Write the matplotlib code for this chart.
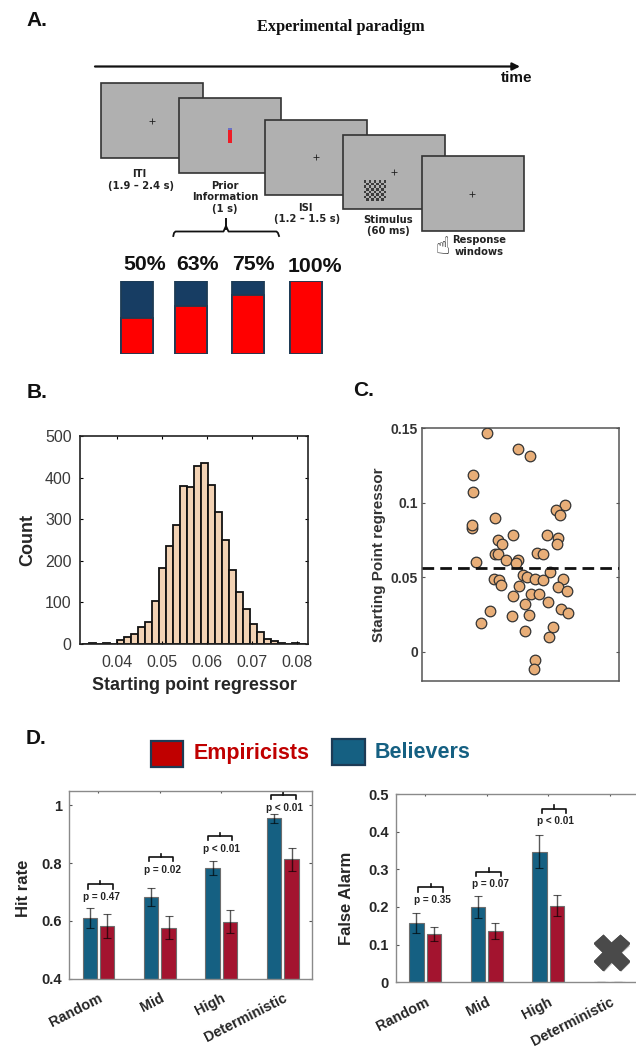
import matplotlib
matplotlib.use("Agg")
import matplotlib.pyplot as plt
import matplotlib.patheffects as pe
from matplotlib.patches import Rectangle
from matplotlib.transforms import ScaledTranslation

plt.rcParams['font.family'] = ['Liberation Sans', 'DejaVu Sans']

W, H = 636, 1047

# panel A
prior_labels = ['50%', '63%', '75%', '100%']
prior_share = [0.50, 0.66, 0.81, 1.00]

# panel B
hist_start = 0.03225
hist_width = 0.00155
hist_counts = [1, 2, 1, 2, 1, 10, 17, 24, 42, 54, 104, 183, 235, 285, 379, 377, 429,
               435, 382, 318, 251, 179, 124, 84, 47, 28, 12, 7, 3, 1, 3, 1]

# panel C
subject_x = [.328, .487, .547, .259, .261, .252, .252, .369, .728, .682, .700, .460, .636,
             .690, .386, .404, .685, .369, .387, .585, .612, .486, .428, .276, .477, .648,
             .511, .535, .574, .614, .716, .365, .391, .401, .491, .692, .734, .462, .552,
             .592, .640, .521, .706, .739, .345, .457, .543, .298, .665, .521, .643, .574, .570]
subject_y = [.1467, .1357, .1313, .1183, .1071, .0830, .0853, .0897, .0984, .0951, .0915, .0781,
             .0783, .0763, .0750, .0721, .0721, .0656, .0658, .0661, .0658, .0614, .0614, .0605,
             .0592, .0533, .0513, .0504, .0487, .0480, .0491, .0491, .0482, .0446, .0444, .0433,
             .0406, .0371, .0384, .0386, .0335, .0317, .0290, .0261, .0275, .0239, .0246, .0190,
             .0167, .0141, .0098, -.0058, -.0114]
subject_mean = 0.0563

# panel D
conditions = ['Random', 'Mid', 'High', 'Deterministic']
hit_believers = [.610, .683, .784, .955]
hit_believers_err = [.036, .032, .025, .016]
hit_empiricists = [.583, .577, .598, .813]
hit_empiricists_err = [.042, .040, .040, .040]
hit_p = ['p = 0.47', 'p = 0.02', 'p < 0.01', 'p < 0.01']
hit_bracket_y = [.727, .821, .894, 1.036]
hit_bracket_x = [1.03, 2.014, 2.976, 4.008]

fa_believers = [.158, .200, .347, 0]
fa_believers_err = [.0265, .028, .044, 0]
fa_empiricists = [.128, .137, .203, 0]
fa_empiricists_err = [.0195, .021, .028, 0]
fa_p = ['p = 0.35', 'p = 0.07', 'p < 0.01']
fa_bracket_y = [.252, .294, .461]
fa_bracket_x = [1.09, 2.035, 3.098]

BLUE = '#156082'
RED = '#A3142F'
DARK = '#262626'


def px_axes(fig, left, top, right, bottom):
    '''Axes placed by pixel box of the image'''
    return fig.add_axes([left / W, 1 - bottom / H, (right - left) / W, (bottom - top) / H])


def group_bars(ax, blue, blue_err, red, red_err):
    x = range(1, len(blue) + 1)
    ebar = dict(ecolor=(0, 0, 0, 0.65), elinewidth=1, capsize=3, capthick=0.8)
    ax.bar([i - 0.142 for i in x], blue, 0.233, yerr=blue_err, color=BLUE,
           edgecolor='#6d6d6d', linewidth=0.8, error_kw=ebar)
    ax.bar([i + 0.142 for i in x], red, 0.233, yerr=red_err, color=RED,
           edgecolor='#6d6d6d', linewidth=0.8, error_kw=ebar)


def bracket(ax, x, y, leg, tip, label, drop):
    ax.plot([x - 0.2, x - 0.2, x + 0.2, x + 0.2], [y - leg, y, y, y - leg], color='#111111',
            lw=1.2, clip_on=False, solid_joinstyle='round')
    ax.plot([x, x], [y, y + tip], color='#111111', lw=1.2, clip_on=False)
    ax.text(x + 0.02, y - drop, label, ha='center', va='center', fontsize=7.2,
            fontweight='bold', color='#222222')


def style_d(ax, ylabel, label_x, label_y):
    ax.set_xlim(0.52, 4.475)
    ax.set_xticks([1, 2, 3, 4])
    ax.set_xticklabels(conditions, rotation=27, ha='right', rotation_mode='anchor',
                       fontsize=10.4, fontweight='bold', color=DARK)
    shift = ScaledTranslation(7.5 / 72, 0, ax.figure.dpi_scale_trans)
    for t in ax.get_xticklabels():
        t.set_transform(t.get_transform() + shift)
    ax.tick_params(axis='x', direction='in', length=1.5, pad=9, top=True, bottom=False, color='#555555')
    ax.tick_params(axis='y', direction='in', length=2, right=True, color='#555555', pad=5)
    for t in ax.get_yticklabels():
        t.set_fontsize(10.5)
        t.set_fontweight('bold')
        t.set_color(DARK)
    for s in ax.spines.values():
        s.set_color('#8a8a8a')
        s.set_linewidth(1.0)
    ax.set_ylabel(ylabel, fontsize=12, fontweight='bold', color=DARK)
    ax.yaxis.set_label_coords(label_x, label_y)


fig = plt.figure(figsize=(W / 100, H / 100), dpi=100)

# overlay in image pixels for the schematic and the panel letters
bg = fig.add_axes([0, 0, 1, 1])
bg.set_xlim(0, W)
bg.set_ylim(H, 0)
bg.axis('off')

for label, x, y in [('A.', 26, 20), ('B.', 27, 392), ('C.', 353, 391), ('D.', 26, 739)]:
    bg.text(x, y, label, fontsize=15, fontweight='bold', va='center', color='#111111')

bg.text(341, 27, 'Experimental paradigm', family='Liberation Serif', fontweight='bold',
        fontsize=11.8, ha='center', va='center', color='#111111')
bg.annotate('', xy=(520, 66.5), xytext=(95, 66.5),
            arrowprops=dict(arrowstyle='-|>', color='#111111', lw=1.6, mutation_scale=11, shrinkA=0, shrinkB=0))
bg.text(517, 78, 'time', fontsize=11, fontweight='bold', ha='center', va='center', color='#111111')

screens = [(100.7, 83.3), (178.7, 98), (265.3, 120), (343.3, 134.7), (421.7, 156.3)]
crosses = [(151.7, 120.7), None, (316.3, 157.3), (394.3, 172), (472.3, 193.7)]
for (x, y), c in zip(screens, crosses):
    bg.add_patch(Rectangle((x, y), 102, 74.5, facecolor='#b0b0b0', edgecolor='#333333', lw=1.2))
    if c:
        bg.plot(*c, marker='+', ms=4.5, mew=0.6, color='#222222')

# prior cue and the checkerboard stimulus
bg.add_patch(Rectangle((228, 128), 4.3, 14.7, facecolor='#ee1c25', edgecolor='none'))
bg.add_patch(Rectangle((228, 128), 4.3, 2, facecolor='#6b6fc4', edgecolor='none'))
for i in range(9):
    for j in range(8):
        if (i + j) % 2 == 0:
            bg.add_patch(Rectangle((363.7 + i * 2.48, 180.3 + j * 2.55), 2.48, 2.55,
                                   facecolor='#3c3c3c', edgecolor='none'))

caption = dict(family='DejaVu Sans', fontweight='bold', fontsize=7.2, ha='center', va='center', color='#222222')
bg.text(139.3, 173.7, 'ITI', **caption)
bg.text(141, 185.7, '(1.9 – 2.4 s)', **caption)
bg.text(225, 185.7, 'Prior', **caption)
bg.text(225, 197.3, 'Information', **caption)
bg.text(225, 209, '(1 s)', **caption)
bg.text(305, 207.7, 'ISI', **caption)
bg.text(307, 219.5, '(1.2 – 1.5 s)', **caption)
bg.text(388, 219.7, 'Stimulus', **caption)
bg.text(388, 231.3, '(60 ms)', **caption)
bg.text(479, 240.3, 'Response', **caption)
bg.text(479, 251.7, 'windows', **caption)
bg.text(443, 246.7, '\u261d', family='DejaVu Sans', fontsize=17, ha='center', va='center', color='#111111')

# brace under the prior screen
bg.plot([173.3, 174, 175.5, 223.5, 226, 228.5, 276.5, 278, 279], [236, 233, 231.5, 231.5, 226, 231.5, 231.5, 233, 236],
        color='#111111', lw=1.3)
bg.plot([226, 226], [219, 229], color='#111111', lw=1.4)

# prior probability bars
axp = px_axes(fig, 117, 281, 331, 354)
prior_pos = [0.094, 0.347, 0.614, 0.883]
axp.bar(prior_pos, [1] * 4, 0.149, color='#173d63', edgecolor='#1d3b55', linewidth=1.3)
axp.bar(prior_pos, prior_share, 0.149, color='#ff0000', edgecolor='#1d3b55', linewidth=1.3)
axp.set_xlim(0, 1)
axp.set_ylim(0, 1)
axp.axis('off')
for pos, lab, y in zip([144.3, 197.4, 253.3, 315], prior_labels, [264, 264, 264, 266]):
    bg.text(pos, y, lab, fontsize=15.3, fontweight='bold', ha='center', va='center', color='#111111')

# panel B
axb = px_axes(fig, 80, 436, 308, 644)
edges = [hist_start + i * hist_width for i in range(len(hist_counts))]
axb.bar(edges, hist_counts, hist_width, align='edge', color='#F2D2B4', edgecolor='#111111', linewidth=1.3)
axb.set_xlim(0.0318, 0.0824)
axb.set_ylim(0, 500)
axb.set_xticks([0.04, 0.05, 0.06, 0.07, 0.08])
axb.set_xticklabels(['0.04', '0.05', '0.06', '0.07', '0.08'])
axb.set_yticks([0, 100, 200, 300, 400, 500])
axb.tick_params(axis='x', direction='in', length=2.5, top=True, labelsize=11.5, labelcolor='#3a3a3a', pad=8)
axb.tick_params(axis='y', direction='in', length=2.5, right=True, labelsize=11.5, labelcolor='#3a3a3a', pad=6)
for s in axb.spines.values():
    s.set_linewidth(1.2)
    s.set_color('#222222')
axb.set_xlabel('Starting point regressor', fontsize=12.9, fontweight='bold', color=DARK, labelpad=5)
axb.set_ylabel('Count', fontsize=13, fontweight='bold', color=DARK, labelpad=6)

# panel C
axc = px_axes(fig, 422, 428, 619, 681)
axc.scatter(subject_x, subject_y, s=58, color='#E8AE78', edgecolor='#333333', linewidth=0.9, zorder=3)
axc.axhline(subject_mean, color='#111111', lw=2, ls=(0, (4.2, 2.2)), zorder=4)
axc.set_xlim(0, 1)
axc.set_ylim(-0.0196, 0.15)
axc.set_xticks([])
axc.set_yticks([0, 0.05, 0.1, 0.15])
axc.set_yticklabels(['0', '0.05', '0.1', '0.15'], fontweight='bold', color='#333333', fontsize=10)
axc.tick_params(direction='in', length=2, right=True, color='#555555', pad=3)
for s in axc.spines.values():
    s.set_linewidth(1.1)
    s.set_color('#555555')
axc.set_ylabel('Starting Point regressor', fontsize=11, fontweight='bold', color='#333333', labelpad=3)

# panel D legend
bg.add_patch(Rectangle((151, 741), 32, 26, facecolor='#C00000', edgecolor='#1d3b55', lw=1.6))
bg.text(194, 753, 'Empiricists', fontsize=15.5, fontweight='bold', color='#C00000', va='center')
bg.add_patch(Rectangle((332, 739), 33, 26, facecolor=BLUE, edgecolor='#1d3b55', lw=1.6))
bg.text(375, 753, 'Believers', fontsize=15.5, fontweight='bold', color=BLUE, va='center')

# panel D hit rate
axh = px_axes(fig, 69, 791, 312, 978.7)
group_bars(axh, hit_believers, hit_believers_err, hit_empiricists, hit_empiricists_err)
axh.set_ylim(0.4, 1.05)
axh.set_yticks([0.4, 0.6, 0.8, 1])
axh.set_yticklabels(['0.4', '0.6', '0.8', '1'])
style_d(axh, 'Hit rate', -0.155, 0.483)
for x, y, p in zip(hit_bracket_x, hit_bracket_y, hit_p):
    bracket(axh, x, y, 0.015, 0.012, p, 0.044)

# panel D false alarm
axf = px_axes(fig, 395.7, 794, 638.7, 982.3)
group_bars(axf, fa_believers, fa_believers_err, fa_empiricists, fa_empiricists_err)
axf.set_ylim(0, 0.5)
axf.set_yticks([0, 0.1, 0.2, 0.3, 0.4, 0.5])
axf.set_yticklabels(['0', '0.1', '0.2', '0.3', '0.4', '0.5'])
style_d(axf, 'False Alarm', -0.172, 0.448)
for x, y, p in zip(fa_bracket_x, fa_bracket_y, fa_p):
    bracket(axf, x, y, 0.012, 0.01, p, 0.033)
axf.plot(4.03, 0.08, marker='X', ms=25, color='#4a4a4a', mec='#4a4a4a', zorder=5,
         path_effects=[pe.withSimplePatchShadow(offset=(1, -1.5), alpha=0.3), pe.Normal()])

fig.savefig('out.png', dpi=100)
